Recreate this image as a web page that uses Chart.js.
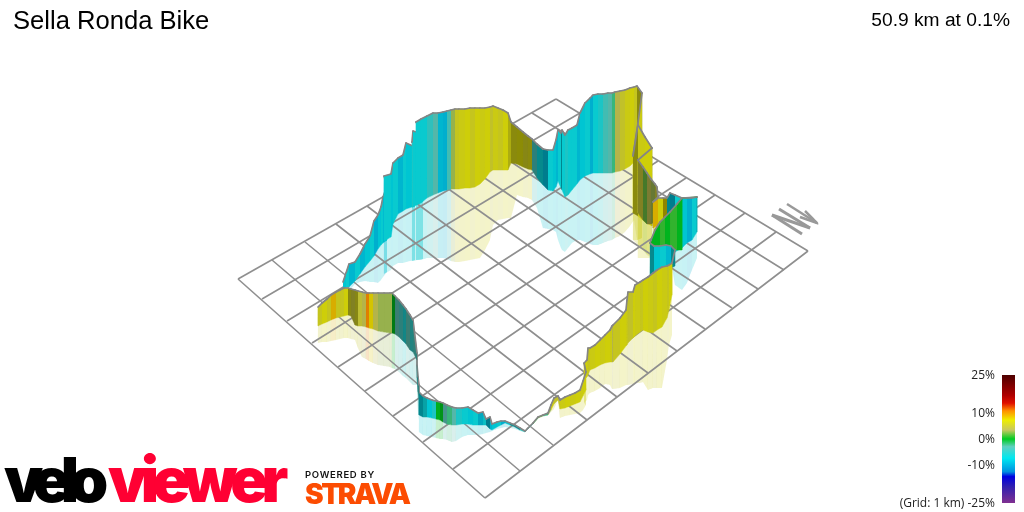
<!DOCTYPE html>
<html><head><meta charset="utf-8">
<style>html,body{margin:0;padding:0;background:#fff}canvas{display:block}</style>
<script src="https://cdn.jsdelivr.net/npm/chart.js@4/dist/chart.umd.min.js"></script>
</head><body><canvas id="c" width="1024" height="512"></canvas>
<script>
// Grid edge ticks
const gridNearX=[238,262,287,312,338,365,393,423,453,485];
const gridNearY=[279,299,321,343,367,391,416,442,469,498];
const gridFarX=[556,580,605,631,658,686,715,745,776,808];
const gridFarY=[99,113,129,144,161,178,195,213,232,251];
const gridLeftX=[238,272,305,336,367,397,426,454,481,507,532,556];
const gridLeftY=[279,260,242,224,206,189,173,157,142,127,113,99];
const gridRightX=[485,520,553,587,617,648,677,705,732,758,784,808];
const gridRightY=[498,471,445,420,397,373,351,329,308,289,270,251];

// Route ribbon, one column per quantity
const routeX=[
343,346,349,355,360,365,370,374,378,381,383,387,384,391,393,398,403,406,415,412,413,423,416,421,427,433,438,443,447,451,455,459,
465,470,475,480,485,490,493,498,503,508,511,517,523,528,532,537,543,548,553,556,558,561,562,565,568,572,577,580,585,590,593,598,603,608,612,615,620,625,630,634,637,642,638,
633,638,645,652,652,638,638,643,647,651,655,657,658,653,658,663,667,670,675,682,687,692,697,697,682,682,677,670,665,660,655,651,
650,654,660,666,671,675,672,672,669,667,662,657,653,648,643,640,635,633,628,627,626,620,613,612,610,605,600,595,590,588,587,584,586,583,580,575,570,565,560,558,554,551,548,543,538,533,528,525,
520,515,510,505,501,497,492,490,486,483,478,473,468,462,456,452,447,443,440,436,432,427,423,419,
419,418,417,417,413,410,406,403,399,395,392,
390,384,378,373,369,366,362,358,355,351,348,344,340,336,331,327,322,318];
const routeTop=[
282,273,264,262,254,244,236,221,215,207,197,186,176,174,163,158,155,143,147,142,131,134,122,119,116,113,113,112,111,110,109,109,
109,108,108,108,108,107,106,108,110,113,122,127,132,136,139,144,149,150,150,140,130,133,130,135,130,128,125,113,103,98,95,94,94,93,93,92,91,90,88,87,86,93,123,
156,125,137,148,148,160,160,167,173,179,184,187,197,202,198,198,198,193,195,198,198,198,197,197,198,198,204,212,217,222,230,240,
243,246,246,245,246,250,263,263,265,266,267,270,273,277,280,282,285,292,292,300,310,318,325,326,330,335,340,345,348,348,360,363,372,381,390,393,395,397,400,396,398,405,413,415,417,423,428,431,
428,425,423,421,421,422,424,417,419,412,413,410,407,408,408,407,405,403,402,401,400,398,396,392,
385,377,365,353,320,315,309,305,300,296,293,
293,293,293,293,293,293,292,291,290,289,288,288,290,292,295,299,303,307];
const routeBase=[
289,288,287,281,274,267,261,256,249,245,243,240,241,237,224,214,211,209,206,207,207,201,205,203,198,195,193,191,190,189,189,189,
188,188,187,184,179,172,170,170,170,170,163,164,167,169,170,178,185,190,191,187,181,188,190,197,195,190,184,180,176,174,173,173,173,173,173,172,171,169,166,162,160,165,195,
213,216,222,226,180,185,213,220,224,224,222,220,220,228,225,222,215,250,252,248,243,240,232,197,198,250,250,249,248,248,248,248,
276,274,272,270,268,266,264,295,310,318,327,330,333,332,330,332,336,338,343,345,346,354,362,362,362,363,365,368,370,375,377,380,390,396,402,404,406,408,409,400,404,410,415,416,418,424,429,432,
430,427,425,423,425,427,430,429,425,425,425,425,424,424,425,425,424,422,420,419,418,417,417,415,
398,392,378,360,352,350,344,341,337,334,333,
333,332,331,329,328,327,326,326,325,316,315,316,317,318,320,322,324,326];
const routeMirror=[
291,292,291,284,282,281,282,282,283,280,277,272,274,270,266,263,263,262,260,261,261,259,260,260,258,258,258,258,259,261,262,262,
261,260,259,258,250,240,225,220,219,218,218,195,197,198,200,208,228,229,230,232,240,248,250,252,248,243,240,240,242,244,245,245,243,241,240,238,236,232,226,220,240,238,240,
240,245,252,258,258,258,245,250,255,258,262,264,265,262,262,262,258,255,285,290,283,270,258,197,198,250,250,249,248,248,248,248,
276,274,272,270,268,266,264,335,345,360,388,388,388,390,382,383,383,384,385,385,385,388,389,389,385,384,388,391,393,395,400,403,405,410,413,414,415,416,418,400,409,412,415,416,418,424,429,432,
431,429,428,427,428,429,431,432,433,434,435,435,435,437,441,442,440,439,439,438,437,436,435,432,
420,412,398,385,385,382,378,376,372,369,368,
367,366,365,363,361,359,357,348,340,339,338,338,339,340,341,342,342,343];
const routeGrade=[
-7,-8,-7,-9,-7,-9,-8,-7,-9.5,-8,-7,-9,-8,-7,-8,-7,-9,-7,-8,-7,-6,-7,-7,-7,-7,-5,-3,-9,-9.5,-4,3,6,
6.5,7,6,7,6.5,7,5.5,6.5,6,7,6.5,6.5,7,6,6.5,-4,-7,-9,-7,-8,-9,-7,-8,-7,-6,-7,-7,-9,-8,-7,-9.5,-7,-6,-4,-3,-2,4,5.5,6.5,7,6,6.5,6.5,
6.5,6.5,6.5,7,7,7,4,5,2,4,3,5,5,8,9,7,8,-8,-9,-7,-8,-9.5,-7,-7,0,0,0,1,0,1,0,0,
-3,-7,-8,-7,-9,-7,-7,6.5,7,6,6.5,7,6,6.5,7,6,6.5,7,5.5,6,6.5,7,6,4,6.5,7,6.5,7,6.5,6,6.5,7,6.5,7,6.5,7,6.5,7,6.5,5.5,5.5,6.5,3,-2,2,0,-4,-3,
-5,-8,-6,-8,-9.5,-7,-8,-9,-9,-7,-9,-7,-8,-7,-6,-3,-2,-3,0,0,-6,-8,-7,-8,
-7,-4,-5,-4,-4,-5,-3,-6,-4,-3,0,
3,3,3,4,8,11,4,5,6,5,6,7,6,6,9,6,7,6];

// Colour scale: grade stops and their colours, and labelled ticks
const scaleGrades=[-25,-18.6,-14.7,-12.8,-7.5,-3,0,3.5,7.4,11,14,17,25];
const scaleColours=['#803090','#3020b0','#0000e0','#0090e0','#00e8f0','#60d0c0','#00cc22','#c8c860','#eeee00','#ff9000','#e01000','#b00000','#4d0000'];
const scaleTicks=[25,10,0,-10,-25];

// North arrow strokes
const northX=[[772,802],[772,810],[779,810],[787,817],[805,817,800]];
const northY=[[215,234],[215,228],[209,228],[204,223],[211,223,217]];

const titleText='Sella Ronda Bike';
const statText='50.9 km at 0.1%';
const gridNote='(Grid: 1 km) ';

function hexRgb(h){return [1,3,5].map(i=>parseInt(h.substr(i,2),16));}
function gradeRgb(g){
  for(let i=0;i<scaleGrades.length-1;i++){
    if(g<=scaleGrades[i+1]){
      const t=Math.max(0,(g-scaleGrades[i])/(scaleGrades[i+1]-scaleGrades[i]));
      const a=hexRgb(scaleColours[i]),b=hexRgb(scaleColours[i+1]);
      return a.map((v,k)=>v+(b[k]-v)*t);
    }
  }
  return hexRgb(scaleColours[scaleColours.length-1]);
}
function light(i){ // ribbon faces away from the light when it runs down to the right
  const a=Math.max(0,i-1),b=Math.min(routeX.length-1,i+2);
  const dx=routeX[b]-routeX[a];
  if(dx===0)return 0.88;
  const sl=((routeBase[b]-routeBase[a])+(routeTop[b]-routeTop[a]))/(2*dx);
  const s=Math.min(1,Math.max(0,(sl-0.3)/0.2));
  return 0.88-0.28*s;
}
function rgba(c,f,a){return `rgba(${c.map(v=>Math.round(v*f)).join(',')},${a})`;}

const datasets=[];
const base={type:'line',pointRadius:0,tension:0.00001,xAxisID:'x',yAxisID:'y'};
const n=Math.min(routeX.length,routeTop.length,routeBase.length,routeMirror.length,routeGrade.length);
for(let i=0;i<n-1;i++){
  const c=gradeRgb(routeGrade[i+1]),f=light(i);
  const x0=routeX[i],x1=routeX[i+1];
  datasets.push({...base,order:900000,borderWidth:0,fill:'shape',backgroundColor:rgba(c,0.88,0.22),
    data:[{x:x0,y:routeBase[i]},{x:x1,y:routeBase[i+1]},{x:x1,y:routeMirror[i+1]},{x:x0,y:routeMirror[i]}]});
  datasets.push({...base,order:100000-2*i,borderWidth:0.5,borderColor:rgba(c,f,1),fill:'shape',backgroundColor:rgba(c,f,1),
    data:[{x:x0,y:routeTop[i]},{x:x1,y:routeTop[i+1]},{x:x1,y:routeBase[i+1]},{x:x0,y:routeBase[i]}]});
  datasets.push({...base,order:100000-2*i-1,borderWidth:1.7,borderColor:'#858585',borderCapStyle:'round',borderJoinStyle:'round',fill:false,
    data:[{x:x0,y:routeTop[i]},{x:x1,y:routeTop[i+1]}]});
}
gridNearX.forEach((_,i)=>datasets.push({...base,order:500000,borderWidth:1.6,borderColor:'#8f8f8f',fill:false,
  data:[{x:gridNearX[i],y:gridNearY[i]},{x:gridFarX[i],y:gridFarY[i]}]}));
gridLeftX.forEach((_,i)=>datasets.push({...base,order:500000,borderWidth:1.6,borderColor:'#8f8f8f',fill:false,
  data:[{x:gridLeftX[i],y:gridLeftY[i]},{x:gridRightX[i],y:gridRightY[i]}]}));
northX.forEach((xs,k)=>datasets.push({...base,order:1,borderWidth:k===3||k===4?2.5:3,borderColor:'#999999',fill:false,
  data:xs.map((x,j)=>({x,y:northY[k][j]}))}));
datasets.push({...base,order:0,yAxisID:'yGrade',borderWidth:13,borderCapStyle:'butt',fill:false,
  borderColor(ctx){
    const ch=ctx.chart,s=ch.scales.yGrade;
    const y0=s?s.getPixelForValue(-25):NaN,y1=s?s.getPixelForValue(25):NaN;
    if(!isFinite(y0)||!isFinite(y1))return '#888';
    const g=ch.ctx.createLinearGradient(0,y0,0,y1);
    scaleGrades.forEach((v,i)=>g.addColorStop((v+25)/50,scaleColours[i]));
    return g;
  },
  data:[{x:1008.5,y:-25},{x:1008.5,y:25}]});

const textPlugin={id:'texts',afterDraw(ch){
  const c=ch.ctx,s=ch.scales.yGrade;
  c.save();
  c.textBaseline='alphabetic';
  c.fillStyle='#000';
  c.textAlign='left';c.font='25.6px "Liberation Sans"';c.fillText(titleText,13,29);
  c.textAlign='right';c.font='19.2px "Liberation Sans"';c.fillText(statText,1010,26);
  c.font='12px "Open Sans"';c.fillStyle='#222';
  scaleTicks.forEach(t=>{
    const y=s.getPixelForValue(t)+4;
    const lab=t+'%';
    c.fillText(t===-25?gridNote+lab:lab,995,t===25?379:y);
  });
  // logo
  c.textAlign='left';
  c.font='900 62px Inter';c.letterSpacing='-9.5px';
  c.fillStyle='#000';c.fillText('velo',4,502);
  c.fillStyle='#ff0033';c.letterSpacing='-6.5px';c.fillText('viewer',108,502);
  c.letterSpacing='0.7px';c.font='600 9.5px Inter';c.fillStyle='#111';c.fillText('POWERED BY',305,478);
  c.letterSpacing='-2.5px';c.font='900 28px Inter';c.fillStyle='#fc4c02';c.fillText('STRAVA',305,504);
  c.restore();
}};

new Chart(document.getElementById('c'),{
  type:'line',
  data:{datasets},
  options:{responsive:false,animation:false,events:[],layout:{padding:0},
    plugins:{legend:{display:false},tooltip:{enabled:false},title:{display:false}},
    scales:{
      x:{type:'linear',min:0,max:1024,display:false},
      y:{type:'linear',min:0,max:512,reverse:true,display:false},
      yGrade:{type:'linear',min:-28.516,max:171.484,display:false}
    }},
  plugins:[textPlugin]
});
</script></body></html>
